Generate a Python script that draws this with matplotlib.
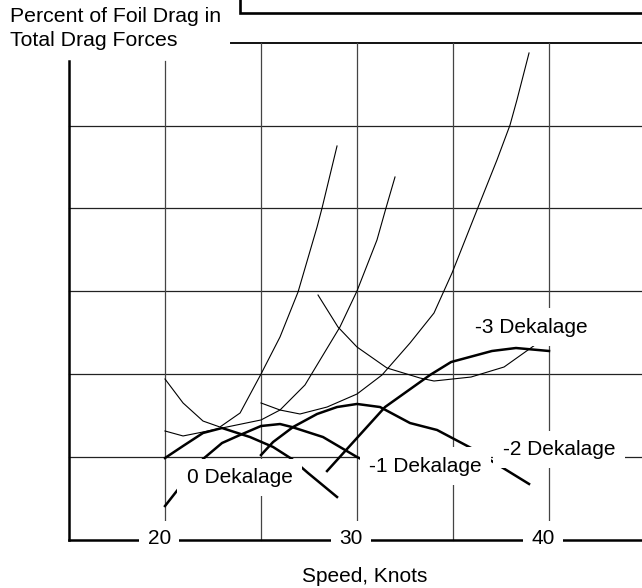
import matplotlib
matplotlib.use("Agg")
import matplotlib.pyplot as plt

plt.rcParams['font.family'] = ['Liberation Sans', 'DejaVu Sans']

# ---------------- data (speed in knots, percent) ----------------
x_ticks = [20, 30, 40]
x_tick_labels = ["20", "30", "40"]
x_grid = [20, 25, 30, 35, 40]
y_grid = [10, 20, 30, 40, 50, 60]

# thin curves
thin1_x = [20.00, 20.94, 21.98, 22.86, 23.91, 25.00, 25.99, 26.93, 27.92, 28.18, 28.96]
thin1_y = [19.42, 16.53, 14.35, 13.63, 15.32, 20.02, 24.49, 29.92, 37.76, 40.05, 47.53]

thin2_x = [20.00, 20.94, 21.98, 22.97, 25.00, 25.99, 27.29, 29.11, 30.00, 31.04, 31.51, 31.98]
thin2_y = [13.15, 12.55, 13.03, 13.51, 14.48, 15.68, 18.70, 25.69, 30.04, 36.19, 40.05, 43.79]

thin3_x = [25.00, 25.99, 27.03, 28.44, 30.00, 31.30, 32.76, 34.01, 34.95, 36.25, 37.29, 37.97, 38.33, 38.96]
thin3_y = [16.53, 15.68, 15.20, 16.04, 17.61, 19.90, 23.76, 27.38, 32.21, 39.81, 45.84, 50.06, 53.08, 58.75]

thin4_x = [27.97, 29.01, 30.00, 31.56, 33.28, 34.01, 35.94, 37.66, 39.27]
thin4_y = [29.55, 25.69, 23.28, 20.75, 19.54, 19.18, 19.66, 20.87, 23.52]

# thick curves
thickA_x = [20.00, 20.94, 21.98, 22.97, 24.43, 25.63, 26.61, 27.45, 28.96]
thickA_y = [9.89, 11.34, 12.91, 13.51, 12.42, 11.22, 9.77, 8.08, 5.19]

thickB_x = [20.00, 20.94, 21.98, 22.97, 23.91, 25.00, 25.99, 26.61, 28.23, 30.00, 30.42]
thickB_y = [4.10, 6.88, 9.77, 11.70, 12.67, 13.75, 13.99, 13.63, 12.42, 10.01, 9.53]

thickC_x = [25.00, 25.63, 26.67, 27.92, 28.96, 30.00, 31.20, 32.76, 34.17, 36.04, 36.93, 38.96]
thickC_y = [10.25, 11.82, 13.63, 15.20, 16.04, 16.41, 16.04, 14.11, 13.27, 10.98, 9.65, 6.76]

thickD_x = [28.44, 31.46, 33.80, 34.90, 37.03, 38.28, 40.00]
thickD_y = [8.32, 16.04, 19.90, 21.47, 22.80, 23.16, 22.80]

curve_labels = ["0 Dekalage", "-1 Dekalage", "-2 Dekalage", "-3 Dekalage"]
label_x = [23.88, 33.57, 40.52, 39.06]
label_y = [6.88, 8.24, 10.25, 25.00]

# ---------------- figure ----------------
fig = plt.figure(figsize=(6.42, 5.88), dpi=100)
ax = fig.add_axes([0, 0, 1, 1])
X0, X1 = 11.406, 44.844
Y0, Y1 = -5.79, 65.14
ax.set_xlim(X0, X1)
ax.set_ylim(Y0, Y1)
ax.axis('off')

hcol = '#222222'
vcol = '#444444'
# horizontal grid lines
for yv in y_grid:
    if yv == 60:
        ax.plot([23.44, X1], [yv, yv], color='#111111', lw=1.4, zorder=1)
    else:
        ax.plot([15, X1], [yv, yv], color=hcol, lw=0.9, zorder=1)
# vertical grid lines
for xv in x_grid:
    top = 57.78 if xv == 20 else 60
    bottom = 2.41 if xv in x_ticks else 0
    ax.plot([xv, xv], [bottom, top], color=vcol, lw=0.9, zorder=1)

# axes
ax.plot([15, 15], [0, 57.78], color='black', lw=1.8, zorder=2)
ax.plot([15, X1], [0, 0], color='black', lw=1.8, zorder=2)

# partial box at top
ax.plot([23.91, 23.91, X1 + 1], [Y1 + 1, 63.61, 63.61], color='black', lw=1.9,
        zorder=2, solid_joinstyle='miter', clip_on=True)

# curves
for cx, cy in [(thin1_x, thin1_y), (thin2_x, thin2_y), (thin3_x, thin3_y), (thin4_x, thin4_y)]:
    ax.plot(cx, cy, color='black', lw=0.8, zorder=3)
for cx, cy in [(thickA_x, thickA_y), (thickB_x, thickB_y), (thickC_x, thickC_y), (thickD_x, thickD_y)]:
    ax.plot(cx, cy, color='black', lw=1.8, zorder=3)

# curve labels
for t, lx, ly in zip(curve_labels, label_x, label_y):
    ax.text(lx, ly, t, ha='center', va='baseline', fontsize=15, zorder=5,
            bbox=dict(boxstyle='square,pad=0.45', fc='white', ec='none'))

# tick labels
for xv, t in zip(x_ticks, x_tick_labels):
    ax.text(xv - 0.3, -0.48, t, ha='center', va='baseline', fontsize=15, zorder=5,
            bbox=dict(boxstyle='square,pad=0.4', fc='white', ec='none'))

ax.text(30.39, -5.03, "Speed, Knots", ha='center', va='baseline', fontsize=15)

fig.text(10 / 642, 1 - 21.7 / 588, "Percent of Foil Drag in", ha='left', va='baseline', fontsize=15.3)
fig.text(10 / 642, 1 - 45.7 / 588, "Total Drag Forces", ha='left', va='baseline', fontsize=15.3)

fig.savefig("out.png", dpi=100)
